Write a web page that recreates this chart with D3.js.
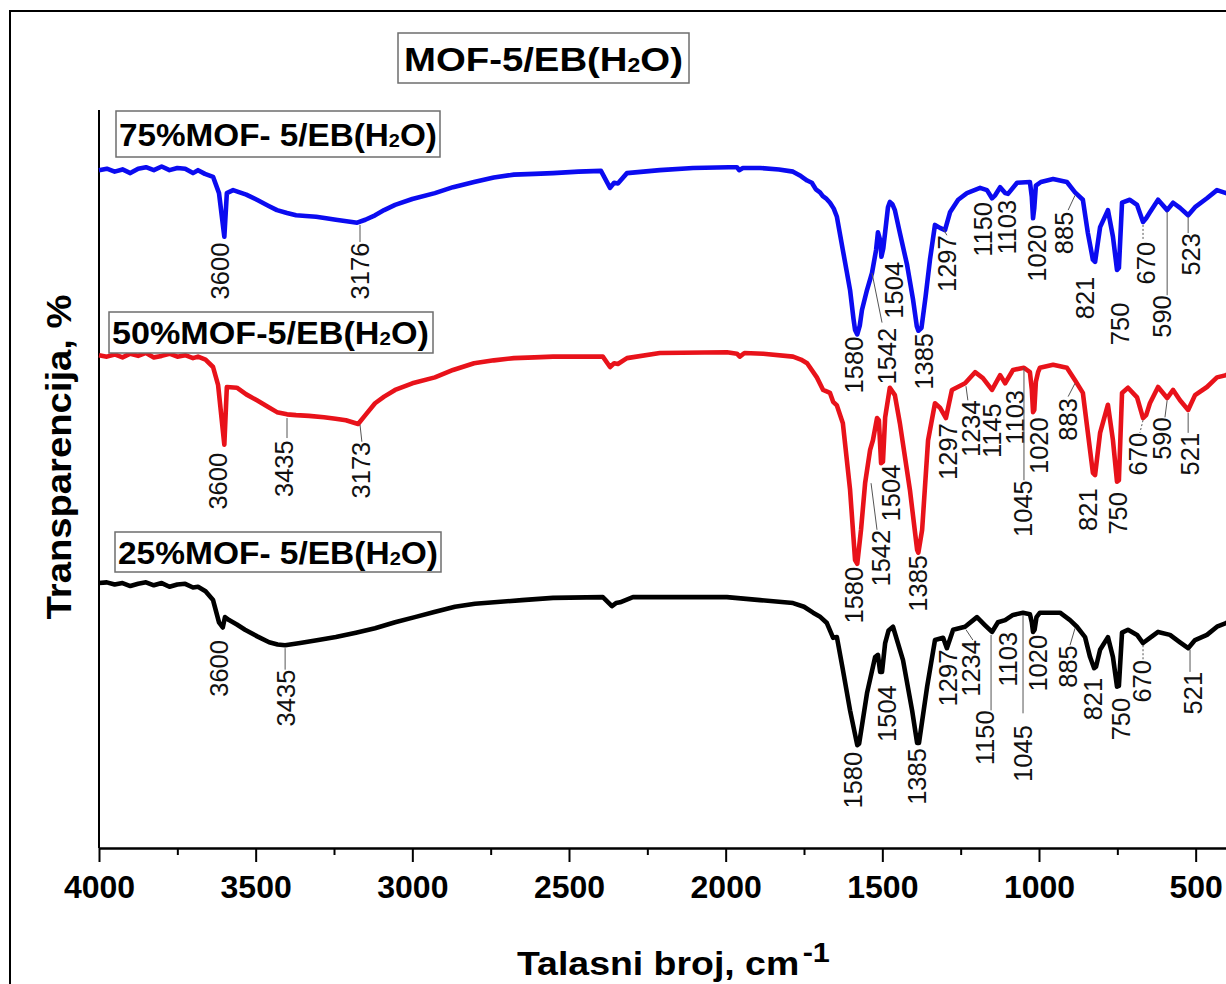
<!DOCTYPE html>
<html><head><meta charset="utf-8">
<script src="https://cdn.jsdelivr.net/npm/d3@7"></script>
<style>body{margin:0;background:#fff}svg{display:block}</style>
</head><body>
<svg id="chart" width="1226" height="984"></svg>
<script>
// ---------------- data ----------------
const majorTicks = [4000, 3500, 3000, 2500, 2000, 1500, 1000, 500];
const minorTicks = [3750, 3250, 2750, 2250, 1750, 1250, 750];
const chartTitle = "MOF-5/EB(H2O)";
const seriesNames = ["75%MOF- 5/EB(H2O)", "50%MOF-5/EB(H2O)", "25%MOF- 5/EB(H2O)"];
const seriesColors = ["#0b0bf0", "#e8121a", "#000000"];
const xTitle = "Talasni broj, cm";
const xTitleSup = "-1";
const yTitle = "Transparencija, %";

// [wavenumber cm-1, transmittance (offset, arbitrary %)]
const spectrum75 = [[4000,91.6],[3975,91.8],[3950,91.4],[3925,91.7],[3900,91.2],[3875,91.8],[3850,92.0],[3825,91.6],[3800,92.1],[3775,91.6],[3750,91.9],[3725,91.8],[3700,91.2],[3684,91.6],[3662,91.1],[3636,90.7],[3617,88.5],[3600,82.6],[3592,88.5],[3572,88.9],[3530,88.3],[3496,87.6],[3460,86.8],[3432,86.2],[3400,85.8],[3371,85.5],[3340,85.4],[3307,85.3],[3275,85.1],[3244,84.9],[3210,84.7],[3176,84.5],[3150,84.9],[3119,85.5],[3090,86.2],[3055,86.9],[3000,87.7],[2928,88.5],[2870,89.3],[2803,90.0],[2740,90.6],[2676,91.0],[2610,91.1],[2551,91.2],[2470,91.4],[2398,91.5],[2369,89.2],[2356,89.9],[2344,89.8],[2315,91.2],[2210,91.6],[2104,91.9],[1990,92.0],[1964,92.0],[1957,91.6],[1945,91.9],[1890,91.9],[1830,91.7],[1785,91.4],[1760,90.8],[1740,90.2],[1725,89.9],[1712,89.0],[1699,88.6],[1690,88.1],[1680,87.8],[1667,87.2],[1655,86.4],[1645,85.3],[1626,80.8],[1614,78.0],[1603,75.4],[1592,71.5],[1587,70.0],[1580,69.4],[1572,70.6],[1565,72.7],[1549,75.4],[1533,77.7],[1520,80.8],[1514,83.2],[1506,82.0],[1503,79.9],[1497,81.0],[1491,83.2],[1482,86.6],[1476,87.3],[1468,87.0],[1460,86.2],[1444,83.1],[1421,78.8],[1402,74.1],[1390,70.5],[1385,69.9],[1375,70.3],[1362,74.5],[1348,79.5],[1332,84.2],[1316,83.8],[1300,83.5],[1284,85.9],[1258,87.6],[1230,88.5],[1188,89.2],[1166,88.9],[1150,87.8],[1140,88.2],[1124,89.3],[1108,88.5],[1099,88.4],[1070,89.9],[1029,90.0],[1023,88.0],[1019,85.1],[1015,86.5],[1010,89.5],[994,90.0],[955,90.4],[911,90.0],[885,88.6],[860,87.6],[844,83.1],[828,79.5],[821,79.2],[805,83.9],[780,86.2],[764,82.6],[751,78.1],[745,78.4],[735,87.2],[710,87.6],[687,86.9],[668,84.6],[658,85.1],[646,85.9],[620,87.6],[591,86.2],[572,87.2],[550,86.5],[524,85.5],[502,86.6],[464,87.8],[432,88.9],[403,88.5],[400,88.6]];

const spectrum50 = [[4000,66.6],[3975,66.4],[3950,66.7],[3925,66.3],[3900,66.8],[3875,66.5],[3850,66.9],[3825,66.3],[3800,66.5],[3775,66.8],[3750,66.4],[3725,66.6],[3700,66.2],[3684,66.4],[3660,66.0],[3636,65.0],[3620,62.6],[3600,54.5],[3592,62.3],[3560,62.2],[3530,61.3],[3496,60.5],[3460,59.6],[3432,58.9],[3400,58.6],[3371,58.5],[3330,58.4],[3282,58.2],[3245,58.0],[3212,57.8],[3173,57.3],[3150,58.5],[3119,60.1],[3090,61.0],[3055,61.9],[3000,62.8],[2928,63.6],[2870,64.6],[2803,65.5],[2740,65.9],[2676,66.2],[2610,66.3],[2551,66.4],[2392,66.4],[2369,65.0],[2356,65.5],[2344,65.4],[2315,66.2],[2210,66.9],[1996,67.0],[1964,66.8],[1955,66.4],[1940,66.9],[1880,66.8],[1785,66.4],[1760,66.0],[1740,65.5],[1709,63.6],[1689,61.9],[1667,61.5],[1657,60.3],[1645,59.8],[1626,57.4],[1603,48.4],[1587,38.9],[1580,38.4],[1568,43.0],[1555,49.3],[1539,53.8],[1530,55.1],[1517,58.1],[1511,57.8],[1504,52.0],[1498,52.2],[1491,58.2],[1476,62.2],[1460,61.2],[1444,57.4],[1412,48.4],[1389,40.3],[1385,39.9],[1373,43.0],[1354,55.1],[1332,60.1],[1316,59.5],[1297,58.1],[1278,61.9],[1236,62.8],[1204,64.3],[1179,63.5],[1150,61.9],[1124,63.9],[1108,62.8],[1083,64.6],[1048,64.9],[1029,64.3],[1023,62.0],[1019,58.9],[1015,59.2],[1010,63.0],[1003,64.3],[997,64.9],[955,65.3],[911,64.9],[885,63.2],[860,61.5],[844,56.1],[828,50.7],[821,50.4],[805,56.1],[780,59.9],[764,55.1],[751,49.5],[745,49.7],[735,61.5],[716,62.2],[687,60.9],[668,58.1],[658,58.5],[646,60.1],[620,62.3],[591,60.8],[572,61.9],[550,60.5],[524,59.2],[502,61.2],[464,62.3],[432,63.6],[403,63.9],[400,64.0]];

const spectrum25 = [[4000,35.8],[3975,35.9],[3950,35.6],[3925,35.8],[3900,35.4],[3875,35.7],[3850,35.9],[3825,35.5],[3800,35.8],[3775,35.3],[3750,35.6],[3725,35.7],[3700,35.2],[3684,35.3],[3660,34.7],[3636,33.5],[3617,30.5],[3605,29.8],[3598,31.2],[3585,30.8],[3560,30.2],[3534,29.5],[3495,28.6],[3457,27.8],[3430,27.5],[3406,27.4],[3358,27.7],[3300,28.1],[3244,28.5],[3180,29.1],[3119,29.7],[3055,30.5],[2992,31.2],[2930,31.9],[2864,32.6],[2800,33.0],[2739,33.2],[2650,33.5],[2551,33.8],[2392,33.9],[2363,32.7],[2350,33.1],[2337,33.2],[2296,33.9],[1996,33.9],[1890,33.5],[1785,33.1],[1750,32.6],[1721,31.8],[1700,31.3],[1677,30.4],[1657,28.4],[1645,28.5],[1626,24.1],[1603,18.6],[1580,13.9],[1574,14.1],[1549,20.9],[1523,25.8],[1514,26.1],[1507,23.8],[1501,23.8],[1491,27.7],[1480,29.4],[1466,29.9],[1434,25.4],[1405,18.6],[1389,14.2],[1383,14.2],[1357,21.8],[1332,28.1],[1306,28.4],[1294,27.0],[1274,29.5],[1236,29.9],[1198,31.2],[1172,30.1],[1150,29.2],[1131,30.5],[1108,30.8],[1083,31.5],[1051,31.8],[1029,31.6],[1023,30.5],[1019,29.2],[1014,29.5],[1008,31.2],[997,31.8],[933,31.8],[901,30.8],[879,29.9],[853,28.5],[837,25.8],[824,24.3],[818,24.5],[805,26.8],[780,28.5],[764,25.8],[751,21.8],[745,21.9],[735,29.1],[716,29.5],[687,28.8],[668,27.7],[646,28.4],[620,29.2],[582,28.8],[550,27.8],[524,27.0],[502,28.1],[464,28.8],[432,29.9],[403,30.4],[400,30.5]];

// peak labels: [text, label wavenumber, label top value, leader [wn1, v1, wn2, v2] or null]
const peaks75 = [["3600",3614,81.8,null],["3176",3167,81.8,[3167,84.2,3167,81.9]],["1580",1590,69.1,null],["1542",1484,70.3,[1533,77.7,1501,71.0]],["1504",1463,79.2,null],["1385",1367,69.6,null],["1297",1294,82.8,[1306,83.7,1294,82.8]],["1150",1179,87.3,null],["1103",1102,87.6,null],["1020",1006,84.2,null],["885",920,86.0,[885,88.2,907,86.2]],["821",853,77.2,null],["750",742,73.7,null],["670",658,81.9,[668,84.2,668,82.2]],["590",607,74.7,[591,86.0,591,74.7]],["523",515,83.1,[524,85.3,524,83.1]]];
const peaks50 = [["3600",3620,53.4,null],["3435",3410,55.1,[3400,58.1,3400,55.4]],["3173",3164,54.9,[3167,57.2,3161,54.9]],["1580",1590,38.0,null],["1542",1504,43.0,[1536,49.3,1517,43.0]],["1504",1472,51.8,null],["1385",1386,39.6,null],["1297",1290,57.4,null],["1234",1217,60.5,[1233,62.4,1227,60.5]],["1145",1150,60.1,null],["1103",1077,61.9,null],["1045",1051,49.7,[1048,64.9,1048,49.7]],["1020",1000,58.2,null],["883",907,60.8,[885,62.8,907,61.0]],["821",844,48.6,null],["750",748,48.1,null],["670",684,56.1,[668,57.8,678,56.1]],["590",607,58.2,[591,60.5,598,58.2]],["521",518,56.1,[524,58.8,524,56.1]]];
const peaks25 = [["3600",3617,28.1,null],["3435",3403,24.1,[3406,27.0,3406,24.1]],["1580",1594,13.0,null],["1504",1485,22.0,null],["1385",1389,13.5,null],["1297",1290,26.8,null],["1234",1217,28.1,[1233,29.5,1211,28.1]],["1150",1172,18.6,[1153,28.8,1153,18.6]],["1103",1099,29.2,null],["1045",1051,16.6,[1051,31.5,1051,18.2]],["1020",1003,28.8,null],["885",907,27.4,[885,29.7,901,27.4]],["821",828,23.0,null],["750",738,20.3,null],["670",671,25.4,[668,27.4,668,25.4]],["521",509,23.8,[518,26.8,518,23.8]]];

// ---------------- drawing ----------------
const FONT = "'Liberation Sans', Arial, Helvetica, sans-serif";
const svg = d3.select("#chart");
svg.append("rect").attr("width",1226).attr("height",984).attr("fill","#fff");

// outer frame (cropped at right/bottom)
svg.append("rect").attr("x",10).attr("y",11).attr("width",1400).attr("height",1200)
  .attr("fill","none").attr("stroke","#000").attr("stroke-width",2);

const x = d3.scaleLinear().domain([4000, 400]).range([99, 1227]);
const y = d3.scaleLinear().domain([0, 100]).range([848, 108]);

// y axis line (no ticks)
svg.append("line").attr("x1",x(4000)).attr("x2",x(4000)).attr("y1",110).attr("y2",y(0))
  .attr("stroke","#000").attr("stroke-width",2);

// x axis
const gMinor = svg.append("g").attr("transform",`translate(0,${y(0)})`)
  .call(d3.axisBottom(x).tickValues(minorTicks).tickSize(7).tickSizeOuter(0).tickFormat(""));
const gMajor = svg.append("g").attr("transform",`translate(0,${y(0)})`)
  .call(d3.axisBottom(x).tickValues(majorTicks).tickSize(14).tickSizeOuter(0).tickPadding(12).tickFormat(d3.format("d")));
[gMinor, gMajor].forEach(g => {
  g.select(".domain").attr("stroke","#000").attr("stroke-width",2);
  g.selectAll(".tick line").attr("stroke","#000").attr("stroke-width",2);
});
gMajor.selectAll(".tick text").attr("font-family",FONT).attr("font-weight","bold")
  .attr("font-size",32).attr("fill","#000").attr("dy",null).attr("y",50);

// spectra
const line = d3.line().x(d => x(d[0])).y(d => y(d[1])).curve(d3.curveLinear);
const spectra = [spectrum75, spectrum50, spectrum25];
spectra.forEach((s, i) => {
  svg.append("path").datum(s).attr("d", line).attr("fill","none")
    .attr("stroke", seriesColors[i]).attr("stroke-width", 4.6).attr("stroke-linejoin","round");
});

// peak labels
function drawPeaks(list) {
  const g = svg.append("g");
  list.forEach(([t, wn, vt, leader]) => {
    if (leader) {
      g.append("line").attr("x1",x(leader[0])).attr("y1",y(leader[1]))
        .attr("x2",x(leader[2])).attr("y2",y(leader[3]))
        .attr("stroke","#555").attr("stroke-width",1)
        .attr("stroke-dasharray", t === "670" ? "2,2" : null);
    }
    g.append("text").attr("transform",`translate(${x(wn)},${y(vt)}) rotate(-90)`)
      .attr("text-anchor","end").attr("dominant-baseline","central")
      .attr("font-family",FONT).attr("font-size",25.5).attr("fill","#111").text(t);
  });
}
[peaks75, peaks50, peaks25].forEach(drawPeaks);

// text with H2O subscript, stretched to a target width
function formulaText(parent, str, fs) {
  const t = parent.append("text").attr("font-family",FONT).attr("font-weight","bold")
    .attr("font-size",fs).attr("fill","#000");
  const idx = str.indexOf("H2O");
  t.append("tspan").text(str.slice(0, idx + 1));
  t.append("tspan").attr("font-size", fs*0.6).attr("dy", 1).text("2");
  t.append("tspan").attr("dy", -1).text(str.slice(idx + 2));
  return t;
}
function boxed(str, box, textX, textW, base, fs) {
  svg.append("rect").attr("x",box[0]).attr("y",box[1]).attr("width",box[2]).attr("height",box[3])
    .attr("fill","#fff").attr("stroke","#6e6e6e").attr("stroke-width",1.5);
  const g = svg.append("g");
  const t = formulaText(g, str, fs);
  const w = t.node().getComputedTextLength();
  g.attr("transform",`translate(${textX},${base}) scale(${textW / w},1)`);
}
boxed(chartTitle, [398,33,291,50], 404, 279, 71, 34);
boxed(seriesNames[0], [116,111,324,46], 119, 318, 146, 32);
boxed(seriesNames[1], [109,312,324,41], 112, 317, 344, 32);
boxed(seriesNames[2], [115,532,326,40], 118, 320, 564, 32);

// x axis title
{
  const g = svg.append("g");
  const t = g.append("text").attr("font-family",FONT).attr("font-weight","bold").attr("font-size",33).attr("fill","#000");
  t.append("tspan").text(xTitle);
  t.append("tspan").attr("font-size",27).attr("dy",-13).attr("dx",3).text(xTitleSup);
  const w = t.node().getComputedTextLength();
  g.attr("transform",`translate(517,975) scale(${313 / (w + 3)},1)`);
}
// y axis title
{
  const g = svg.append("g");
  const t = g.append("text").attr("font-family",FONT).attr("font-weight","bold").attr("font-size",36)
    .attr("fill","#000").attr("text-anchor","middle").text(yTitle);
  const w = t.node().getComputedTextLength();
  g.attr("transform",`translate(71,457) rotate(-90) scale(${325 / w},1)`);
}
</script>
</body></html>
